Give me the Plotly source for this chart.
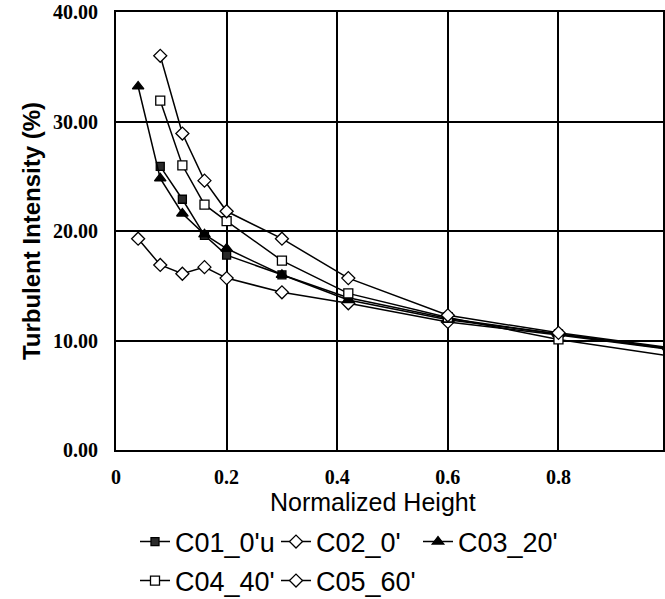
import plotly.graph_objects as go

# ---- data ----
x_c01 = [0.08, 0.12, 0.16, 0.2, 0.3, 0.42, 0.6, 0.8, 1.0]
y_c01 = [25.9, 22.9, 19.6, 17.8, 16.0, 13.9, 12.0, 10.6, 9.3]

x_c02 = [0.04, 0.08, 0.12, 0.16, 0.2, 0.3, 0.42, 0.6, 0.8, 1.0]
y_c02 = [19.3, 16.9, 16.1, 16.7, 15.7, 14.4, 13.4, 11.7, 10.5, 9.2]

x_c03 = [0.04, 0.08, 0.12, 0.16, 0.2, 0.3, 0.42, 0.6, 0.8, 1.0]
y_c03 = [33.2, 24.8, 21.6, 19.7, 18.4, 16.0, 13.7, 11.9, 10.6, 9.25]

x_c04 = [0.08, 0.12, 0.16, 0.2, 0.3, 0.42, 0.6, 0.8, 1.0]
y_c04 = [31.9, 26.0, 22.4, 20.9, 17.3, 14.3, 12.1, 10.1, 8.6]

x_c05 = [0.08, 0.12, 0.16, 0.2, 0.3, 0.42, 0.6, 0.8, 1.0]
y_c05 = [36.0, 28.9, 24.6, 21.8, 19.3, 15.7, 12.3, 10.7, 9.35]

names = ["C01_0'u", "C02_0'", "C03_20'", "C04_40'", "C05_60'"]
x_ticks = [0, 0.2, 0.4, 0.6, 0.8]
x_tick_text = ["0", "0.2", "0.4", "0.6", "0.8"]
y_ticks = [0, 10, 20, 30, 40]
x_title = "Normalized Height"
y_title = "Turbulent Intensity (%)"

series = [
    (x_c01, y_c01, "square", "#2a2a2a", 8),
    (x_c02, y_c02, "diamond", "white", 10),
    (x_c03, y_c03, "triangle-up", "black", 10),
    (x_c04, y_c04, "square", "white", 9),
    (x_c05, y_c05, "diamond", "white", 10),
]

W, H = 665, 599
# legend entry positions (pixels, left edge of legend box / vertical centre)
leg_pos = [(135, 542), (276, 542), (418, 542), (135, 581), (276, 581)]

fig = go.Figure()
legend_keys = ["legend", "legend2", "legend3", "legend4", "legend5"]
for i, (xs, ys, sym, fill, sz) in enumerate(series):
    fig.add_trace(go.Scatter(
        x=xs, y=ys, name=names[i], mode="lines+markers",
        line=dict(color="black", width=1.5),
        marker=dict(symbol=sym, color=fill, size=sz,
                    line=dict(color="black", width=1.3)),
        legend=legend_keys[i], cliponaxis=True,
    ))

legend_font = dict(family="Liberation Sans, Arial", size=27, color="black")
layout_legends = {}
for i, key in enumerate(legend_keys):
    px, py = leg_pos[i]
    layout_legends[key] = dict(
        xref="container", yref="container",
        x=px / W, y=1 - py / H, xanchor="left", yanchor="middle",
        orientation="h", font=legend_font, bgcolor="rgba(0,0,0,0)",
        itemwidth=30, borderwidth=0,
    )

fig.update_layout(
    width=W, height=H,
    margin=dict(l=116, r=0, t=12, b=149),
    paper_bgcolor="white", plot_bgcolor="white",
    showlegend=True,
    **layout_legends,
)

fig.add_annotation(
    text=x_title, xref="paper", yref="paper",
    x=(374 - 116) / (W - 116), y=-(502 - 450) / 438,
    xanchor="center", yanchor="middle", showarrow=False,
    font=dict(family="Liberation Sans, Arial", size=25, color="black"),
)

fig.update_xaxes(
    range=[0, 0.989], tickvals=x_ticks, ticktext=x_tick_text,
    showgrid=True, gridcolor="black", gridwidth=1.6,
    showline=True, linecolor="black", linewidth=2, mirror=True,
    zeroline=False, ticks="", ticklabelstandoff=8,
    tickfont=dict(family="Liberation Serif, Times New Roman", size=20, color="black", weight="bold"),
)
fig.update_yaxes(
    range=[0, 40], tickvals=y_ticks, tickformat=".2f",
    showgrid=True, gridcolor="black", gridwidth=1.6,
    showline=True, linecolor="black", linewidth=2, mirror=True,
    zeroline=False, ticks="", ticklabelstandoff=12,
    tickfont=dict(family="Liberation Serif, Times New Roman", size=20, color="black", weight="bold"),
    title=dict(text=y_title, standoff=6,
               font=dict(family="Liberation Sans, Arial", size=24, color="black", weight="bold")),
)

fig.write_html("out.html")
